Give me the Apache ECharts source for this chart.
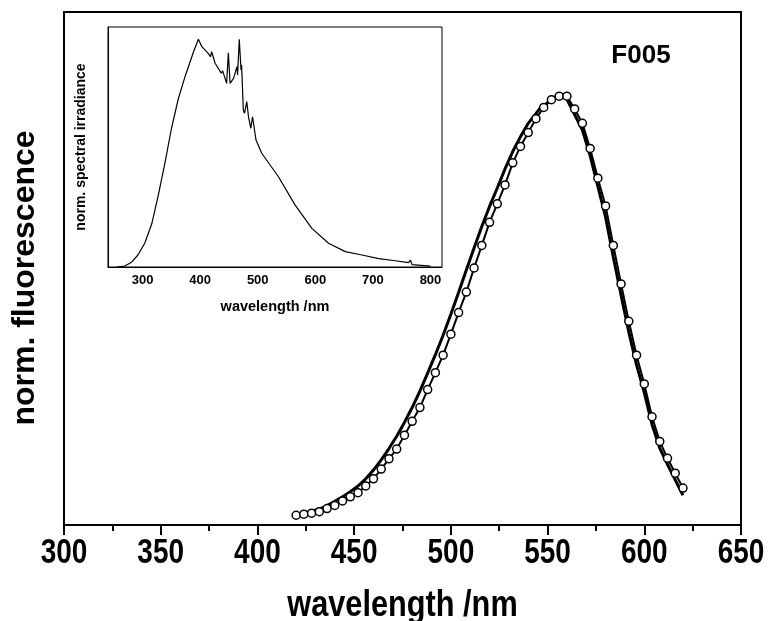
<!DOCTYPE html>
<html>
<head>
<meta charset="utf-8">
<script src="https://cdn.jsdelivr.net/npm/echarts@6/dist/echarts.min.js"></script>
<style>
html,body{margin:0;padding:0;background:#fff;}
#chart{width:768px;height:621px;}
</style>
</head>
<body>
<div id="chart"></div>
<script>
// Main plot: wavelength (nm) of measured points (circles)
var measWl = [420,424,428,432,436,440,444,448,452,456,460,464,468,472,476,480,484,488,492,496,500,504,508,512,516,520,524,528,532,536,540,544,548,552,556,560,564,568,572,576,580,584,588,592,596,600,604,608,612,616,620];
var measVal = [0.019,0.021,0.023,0.026,0.032,0.038,0.047,0.055,0.063,0.076,0.090,0.109,0.129,0.148,0.175,0.202,0.229,0.264,0.297,0.331,0.372,0.414,0.454,0.501,0.545,0.590,0.626,0.663,0.706,0.738,0.765,0.792,0.814,0.829,0.836,0.836,0.811,0.783,0.734,0.676,0.622,0.545,0.470,0.397,0.331,0.275,0.211,0.163,0.130,0.101,0.072];
// Main plot: solid curve
var curveWl = [420,424,428,432,436,440,444,448,452,456,460,464,468,472,476,480,484,488,492,496,500,504,508,512,516,520,524,528,532,536,540,544,546,548,552,556,560,564,568,572,576,580,584,588,592,596,600,604,608,612,616,620];
var curveVal = [0.020,0.023,0.027,0.031,0.038,0.046,0.055,0.065,0.076,0.090,0.107,0.127,0.149,0.173,0.200,0.229,0.261,0.296,0.332,0.370,0.411,0.453,0.497,0.540,0.582,0.621,0.657,0.694,0.728,0.757,0.783,0.802,0.812,0.816,0.831,0.837,0.830,0.800,0.770,0.720,0.660,0.600,0.522,0.448,0.376,0.312,0.258,0.196,0.150,0.118,0.088,0.058];
// Inset: lamp spectrum
var insetWl = [255,269,281,292,304,316,327,339,350,362,374,385,389,397,403,414,418,420,426,437,439,446,449,452,458,464,465,468,471,472,475,477,481,484,488,491,494,497,507,536,565,594,623,652,681,710,739,762,765,768,800];
var insetVal = [0.0,0.004,0.020,0.050,0.100,0.180,0.295,0.435,0.575,0.700,0.795,0.872,0.900,0.949,0.918,0.890,0.876,0.897,0.849,0.807,0.818,0.765,0.893,0.765,0.786,0.835,0.800,0.949,0.821,0.842,0.654,0.640,0.689,0.626,0.578,0.626,0.578,0.529,0.474,0.376,0.258,0.161,0.099,0.064,0.050,0.035,0.026,0.018,0.029,0.010,0.004];
var mainTicks = [300,350,400,450,500,550,600,650];
var insetTicks = [300,400,500,600,700,800];

function pairs(xs, ys){ return xs.map(function(x,i){ return [x, ys[i]]; }); }

var FF = '"Liberation Sans", Arial, sans-serif';
var chart = echarts.init(document.getElementById('chart'), null, {renderer:'canvas'});
var option = {
  animation: false,
  backgroundColor: '#fff',
  grid: [
    {left:64, right:27, top:12, bottom:96, show:true, borderColor:'#000', borderWidth:2, backgroundColor:'transparent', outerBoundsMode:'none', containLabel:false},
    {left:108, top:27, width:334, height:240, show:true, borderColor:'#000', borderWidth:1, backgroundColor:'#fff', outerBoundsMode:'none', containLabel:false}
  ],
  xAxis: [
    {type:'value', gridIndex:0, min:300, max:650, interval:50,
     axisLine:{show:true, lineStyle:{color:'#000', width:2}},
     axisTick:{show:true, length:10, inside:false, lineStyle:{color:'#000', width:2}},
     minorTick:{show:true, splitNumber:2, length:6, lineStyle:{color:'#000', width:2}},
     splitLine:{show:false},
     axisLabel:{show:false}
    },
    {type:'value', gridIndex:1, min:240, max:820,
     axisLine:{show:true, lineStyle:{color:'#000', width:1}},
     axisTick:{show:false},
     splitLine:{show:false},
     axisLabel:{margin:7, color:'#000', fontSize:13, fontWeight:'bold', fontFamily:FF, customValues: insetTicks}
    }
  ],
  yAxis: [
    {type:'value', gridIndex:0, min:0, max:1,
     axisLine:{show:true, lineStyle:{color:'#000', width:2}},
     axisTick:{show:false}, axisLabel:{show:false}, splitLine:{show:false}},
    {type:'value', gridIndex:1, min:0, max:1,
     axisLine:{show:true, lineStyle:{color:'#000', width:1}},
     axisTick:{show:false}, axisLabel:{show:false}, splitLine:{show:false}}
  ],
  series: [
    {type:'line', xAxisIndex:0, yAxisIndex:0, data: pairs(curveWl, curveVal),
     showSymbol:false, symbol:'none', lineStyle:{color:'#000', width:3}, z:2},
    {type:'line', xAxisIndex:0, yAxisIndex:0, data: pairs(measWl, measVal),
     symbol:'circle', symbolSize:8, showAllSymbol:true,
     itemStyle:{color:'#fff', borderColor:'#000', borderWidth:1.5},
     lineStyle:{color:'#000', width:2}, z:3},
    {type:'line', xAxisIndex:1, yAxisIndex:1, data: pairs(insetWl, insetVal),
     symbol:'none', lineStyle:{color:'#000', width:1.2}, z:4}
  ]
};
chart.setOption(option);

// Condensed bold tick labels and axis title for the main x axis, positioned via the axis scale
var axisY = chart.convertToPixel({gridIndex:0}, [300, 0])[1];
var g = [];
mainTicks.forEach(function(t){
  var px = chart.convertToPixel({gridIndex:0}, [t, 0]);
  g.push({type:'text', x:px[0], y:axisY + 28, scaleX:0.8, z:10,
    style:{text:String(t), fill:'#000', font:'bold 35px '+FF, textAlign:'center', textVerticalAlign:'middle'}});
});
var midX = (chart.convertToPixel({gridIndex:0}, [300, 0])[0] + chart.convertToPixel({gridIndex:0}, [650, 0])[0]) / 2;
g.push({type:'text', x:midX, y:axisY + 81, scaleX:0.83, z:10,
  style:{text:'wavelength /nm', fill:'#000', font:'bold 37px '+FF, textAlign:'center', textVerticalAlign:'middle'}});
g.push({type:'text', x:25, y:278, rotation:Math.PI/2, z:10,
  style:{text:'norm. fluorescence', fill:'#000', font:'bold 32px '+FF, textAlign:'center', textVerticalAlign:'middle'}});
g.push({type:'text', x:641, y:56, z:10,
  style:{text:'F005', fill:'#000', font:'bold 26px '+FF, textAlign:'center', textVerticalAlign:'middle'}});
g.push({type:'text', x:275, y:307, z:10,
  style:{text:'wavelength /nm', fill:'#000', font:'bold 14.5px '+FF, textAlign:'center', textVerticalAlign:'middle'}});
g.push({type:'text', x:81, y:147, rotation:Math.PI/2, z:10,
  style:{text:'norm. spectral irradiance', fill:'#000', font:'bold 14px '+FF, textAlign:'center', textVerticalAlign:'middle'}});
chart.setOption({graphic: g});
</script>
</body>
</html>
